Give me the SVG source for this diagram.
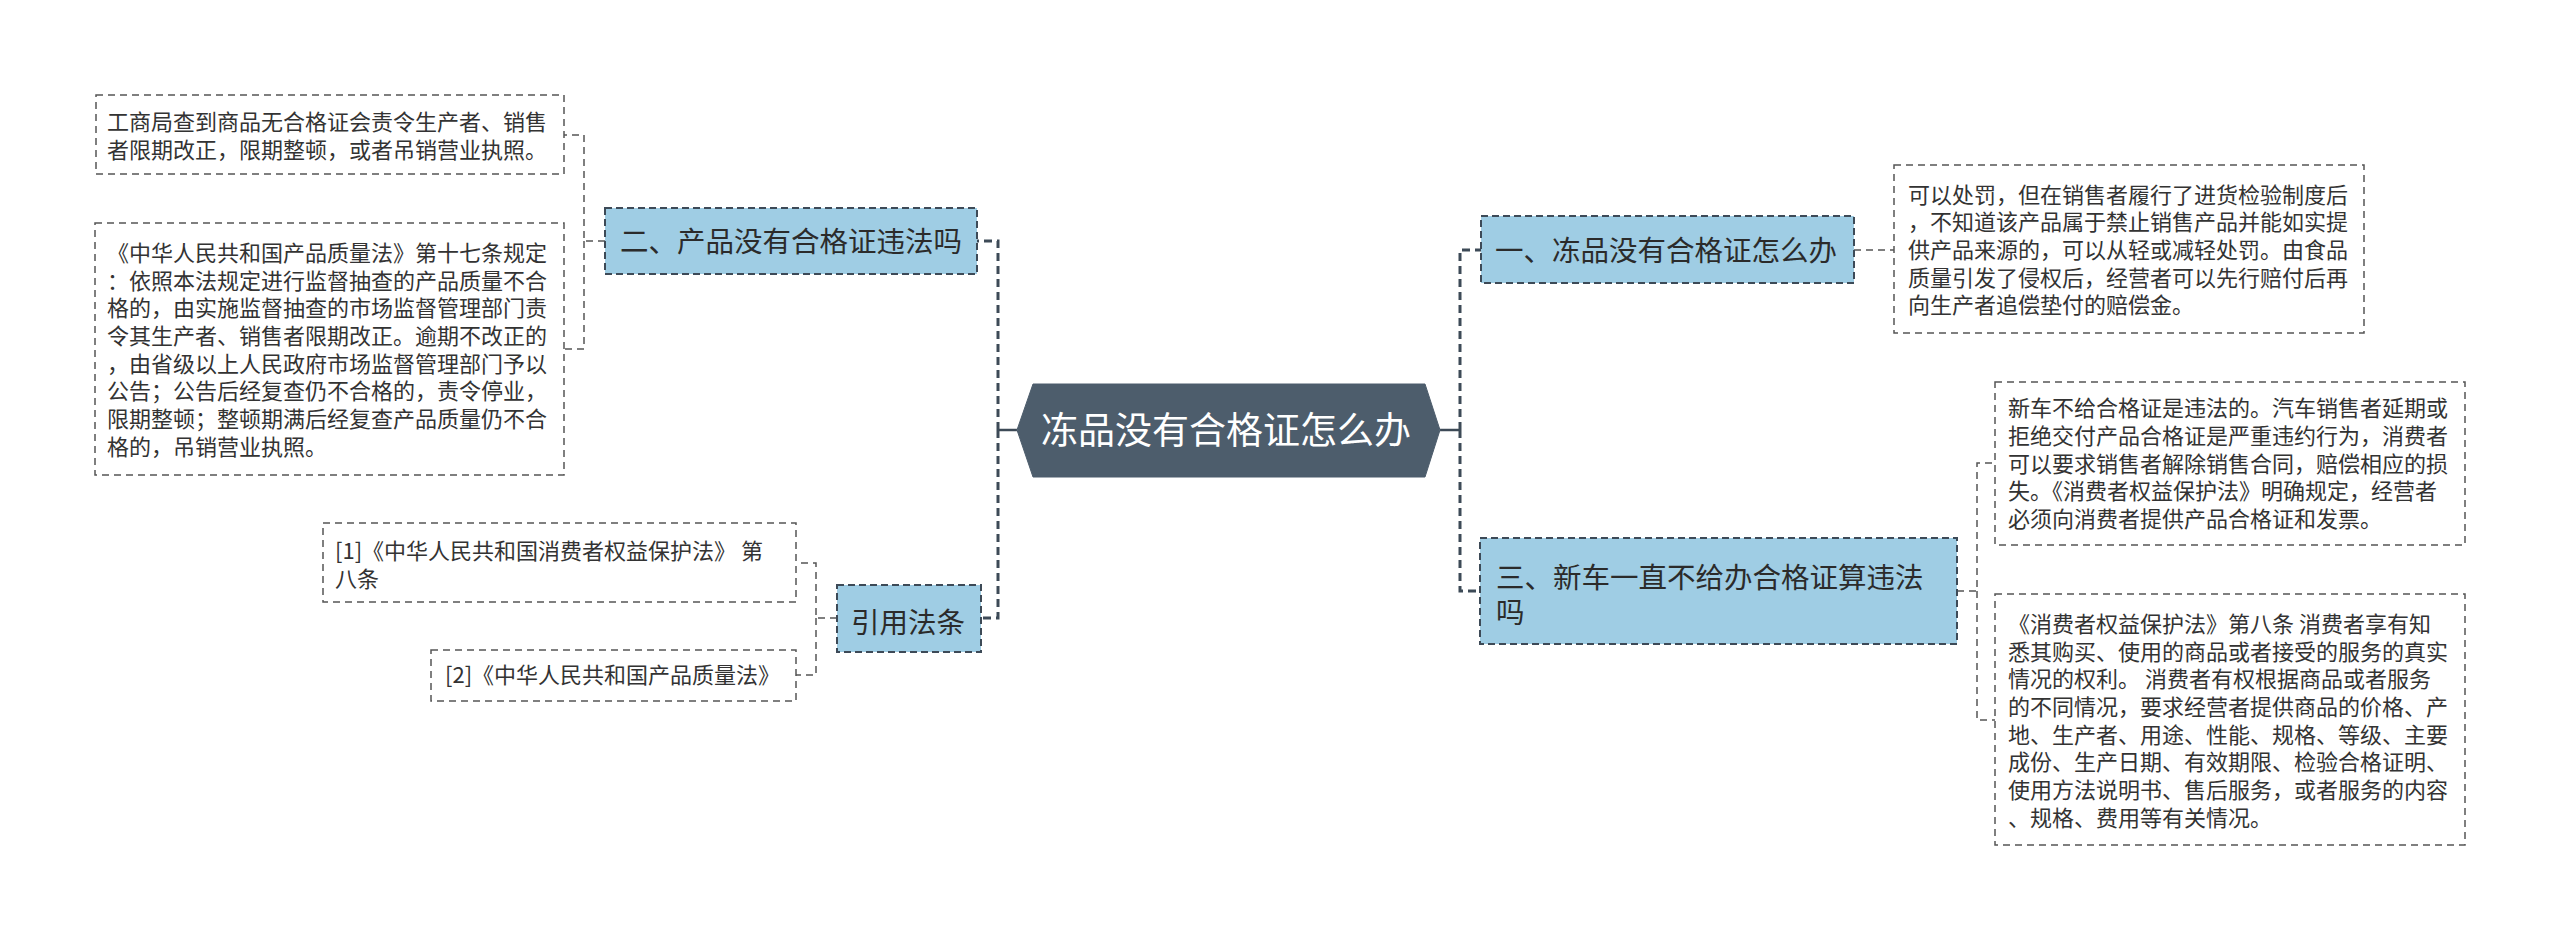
<svg xmlns="http://www.w3.org/2000/svg" width="2560" height="941" viewBox="0 0 2560 941">
<style>
.bg{fill:#ffffff}
.leaf{fill:#ffffff;stroke:#555555;stroke-width:1.5;stroke-dasharray:7 5}
.node{fill:#9fcde4;stroke:#3d4a57;stroke-width:2;stroke-dasharray:7 4}
.root{fill:#4d5d6c;stroke:#4d5d6c;stroke-width:1}
.lt{font-family:"Noto Sans CJK SC","Noto Sans",sans-serif;font-size:22px;fill:#333333}
.nt{font-family:"Noto Sans CJK SC","Noto Sans",sans-serif;font-size:28.5px;fill:#2b2b2b}
.rt{font-family:"Noto Sans CJK SC","Noto Sans",sans-serif;font-size:37px;fill:#ffffff}
.trunk{fill:none;stroke:#3d4a57;stroke-width:3;stroke-dasharray:8 5}
.stub{fill:none;stroke:#3d4a57;stroke-width:2.5}
.sub{fill:none;stroke:#555555;stroke-width:1.5;stroke-dasharray:7 5}
</style>
<rect class="bg" x="0" y="0" width="2560" height="941"/>
<g id="connectors">
<path class="stub" d="M1017,430 H998"/>
<path class="trunk" d="M998,430 V241 H977 M998,430 V618 H981"/>
<path class="stub" d="M1440,430 H1460"/>
<path class="trunk" d="M1460,430 V250 H1481 M1460,430 V591 H1480"/>
<path class="sub" d="M605,241 H584 V135 H564 M584,241 V349 H564"/>
<path class="sub" d="M837,618 H816 V563 H796 M816,618 V675 H796"/>
<path class="sub" d="M1854,250 H1894"/>
<path class="sub" d="M1957,591 H1977 V463 H1995 M1977,591 V720 H1995"/>
</g>
<g id="root">
<polygon class="root" points="1017,430 1033,384 1425,384 1440,430 1425,477 1033,477"/>
<text class="rt" x="1226" y="444" text-anchor="middle">冻品没有合格证怎么办</text>
</g>
<g id="n2">
<rect class="node" x="605" y="208" width="372" height="66"/>
<text class="nt" x="620" y="252">二、产品没有合格证违法吗</text>
</g>
<g id="n2a">
<rect class="leaf" x="96" y="95" width="468" height="79"/>
<text class="lt"><tspan x="107" y="130">工商局查到商品无合格证会责令生产者、销售</tspan><tspan x="107" y="158">者限期改正，限期整顿，或者吊销营业执照。</tspan></text>
</g>
<g id="n2b">
<rect class="leaf" x="95" y="223" width="469" height="252"/>
<text class="lt"><tspan x="107" y="261">《中华人民共和国产品质量法》第十七条规定</tspan><tspan x="107" y="289">：依照本法规定进行监督抽查的产品质量不合</tspan><tspan x="107" y="316">格的，由实施监督抽查的市场监督管理部门责</tspan><tspan x="107" y="344">令其生产者、销售者限期改正。逾期不改正的</tspan><tspan x="107" y="372">，由省级以上人民政府市场监督管理部门予以</tspan><tspan x="107" y="399">公告；公告后经复查仍不合格的，责令停业，</tspan><tspan x="107" y="427">限期整顿；整顿期满后经复查产品质量仍不合</tspan><tspan x="107" y="455">格的，吊销营业执照。</tspan></text>
</g>
<g id="n4">
<rect class="node" x="837" y="585" width="144" height="67"/>
<text class="nt" x="851" y="633">引用法条</text>
</g>
<g id="n4a">
<rect class="leaf" x="323" y="523" width="473" height="79"/>
<text class="lt"><tspan x="335" y="559">[1]《中华人民共和国消费者权益保护法》 第</tspan><tspan x="335" y="587">八条</tspan></text>
</g>
<g id="n4b">
<rect class="leaf" x="431" y="650" width="365" height="51"/>
<text class="lt" x="445" y="683">[2]《中华人民共和国产品质量法》</text>
</g>
<g id="n1">
<rect class="node" x="1481" y="216" width="373" height="67"/>
<text class="nt" x="1495" y="261">一、冻品没有合格证怎么办</text>
</g>
<g id="n1a">
<rect class="leaf" x="1894" y="165" width="470" height="168"/>
<text class="lt"><tspan x="1908" y="203">可以处罚，但在销售者履行了进货检验制度后</tspan><tspan x="1908" y="230">，不知道该产品属于禁止销售产品并能如实提</tspan><tspan x="1908" y="258">供产品来源的，可以从轻或减轻处罚。由食品</tspan><tspan x="1908" y="286">质量引发了侵权后，经营者可以先行赔付后再</tspan><tspan x="1908" y="313">向生产者追偿垫付的赔偿金。</tspan></text>
</g>
<g id="n3">
<rect class="node" x="1480" y="538" width="477" height="106"/>
<text class="nt"><tspan x="1496" y="588">三、新车一直不给办合格证算违法</tspan><tspan x="1496" y="623">吗</tspan></text>
</g>
<g id="n3a">
<rect class="leaf" x="1995" y="382" width="470" height="163"/>
<text class="lt"><tspan x="2008" y="416">新车不给合格证是违法的。汽车销售者延期或</tspan><tspan x="2008" y="444">拒绝交付产品合格证是严重违约行为，消费者</tspan><tspan x="2008" y="472">可以要求销售者解除销售合同，赔偿相应的损</tspan><tspan x="2008" y="499">失。《消费者权益保护法》明确规定，经营者</tspan><tspan x="2008" y="527">必须向消费者提供产品合格证和发票。</tspan></text>
</g>
<g id="n3b">
<rect class="leaf" x="1995" y="594" width="470" height="251"/>
<text class="lt"><tspan x="2008" y="632">《消费者权益保护法》第八条 消费者享有知</tspan><tspan x="2008" y="660">悉其购买、使用的商品或者接受的服务的真实</tspan><tspan x="2008" y="687">情况的权利。 消费者有权根据商品或者服务</tspan><tspan x="2008" y="715">的不同情况，要求经营者提供商品的价格、产</tspan><tspan x="2008" y="743">地、生产者、用途、性能、规格、等级、主要</tspan><tspan x="2008" y="770">成份、生产日期、有效期限、检验合格证明、</tspan><tspan x="2008" y="798">使用方法说明书、售后服务，或者服务的内容</tspan><tspan x="2008" y="826">、规格、费用等有关情况。</tspan></text>
</g>
</svg>
